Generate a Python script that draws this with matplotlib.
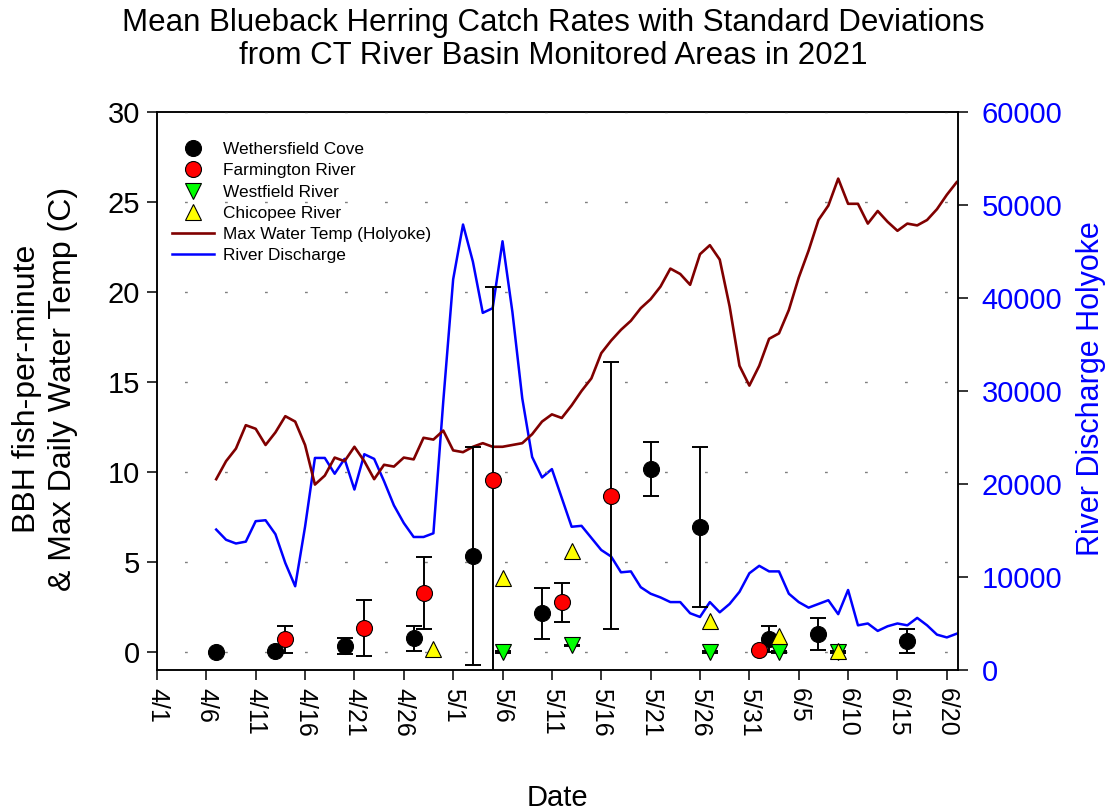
import matplotlib
matplotlib.use("Agg")
import matplotlib.pyplot as plt
import matplotlib.dates as mdates
from matplotlib.lines import Line2D
from matplotlib.ticker import FuncFormatter
import pandas as pd

plt.rcParams["font.family"] = ["Liberation Sans", "DejaVu Sans"]

# Holyoke daily series, 4/7 through 6/21
series_start = "2021-04-07"
max_temp = [
    9.6, 10.6, 11.3, 12.6, 12.4, 11.5, 12.2, 13.1, 12.8, 11.5,
    9.3, 9.8, 10.8, 10.6, 11.4, 10.6, 9.6, 10.4, 10.3, 10.8,
    10.7, 11.9, 11.8, 12.3, 11.2, 11.1, 11.4, 11.6, 11.4, 11.4,
    11.5, 11.6, 12.1, 12.8, 13.2, 13.0, 13.7, 14.5, 15.2, 16.6,
    17.3, 17.9, 18.4, 19.1, 19.6, 20.3, 21.3, 21.0, 20.4, 22.1,
    22.6, 21.8, 19.2, 15.9, 14.8, 15.9, 17.4, 17.7, 19.0, 20.8,
    22.3, 24.0, 24.8, 26.3, 24.9, 24.9, 23.8, 24.5, 23.9, 23.4,
    23.8, 23.7, 24.0, 24.6, 25.4, 26.1,
]
discharge = [
    15100, 14000, 13600, 13800, 16000, 16100, 14600, 11500, 9000, 15400,
    22800, 22800, 21100, 22700, 19400, 23200, 22700, 20300, 17700, 15800,
    14300, 14300, 14700, 28900, 42000, 47900, 43900, 38400, 38900, 46100,
    38500, 29200, 22900, 20700, 21600, 18500, 15400, 15500, 14200, 12900,
    12200, 10500, 10600, 8900, 8200, 7800, 7300, 7300, 6100, 5700,
    7300, 6200, 7100, 8400, 10400, 11200, 10600, 10600, 8200, 7300,
    6700, 7100, 7500, 6000, 8600, 4800, 5000, 4200, 4700, 5000,
    4800, 5600, 4800, 3800, 3500, 3900,
]

# catch rates in fish per minute: mean and standard deviation per sampling date
wethersfield_dates = ["2021-04-07", "2021-04-13", "2021-04-20", "2021-04-27",
                      "2021-05-03", "2021-05-10", "2021-05-21", "2021-05-26",
                      "2021-06-02", "2021-06-07", "2021-06-16"]
wethersfield_mean = [0.0, 0.05, 0.33, 0.76, 5.32, 2.14, 10.18, 6.95, 0.7, 0.98, 0.61]
wethersfield_sd = [0.0, 0.0, 0.45, 0.68, 6.06, 1.42, 1.5, 4.45, 0.72, 0.88, 0.64]

farmington_dates = ["2021-04-14", "2021-04-22", "2021-04-28", "2021-05-05",
                    "2021-05-12", "2021-05-17", "2021-06-01"]
farmington_mean = [0.7, 1.33, 3.27, 9.53, 2.75, 8.67, 0.11]
farmington_sd = [0.77, 1.54, 2.0, 10.76, 1.1, 7.42, 0.0]

westfield_dates = ["2021-05-06", "2021-05-13", "2021-05-27", "2021-06-03", "2021-06-09"]
westfield_mean = [0.0, 0.36, 0.0, 0.0, 0.0]
westfield_sd = [0.07, 0.05, 0.07, 0.07, 0.05]

chicopee_dates = ["2021-04-29", "2021-05-06", "2021-05-13", "2021-05-27",
                  "2021-06-03", "2021-06-09"]
chicopee_mean = [0.15, 4.12, 5.63, 1.74, 0.9, 0.05]

series_dates = pd.date_range(series_start, periods=len(max_temp), freq="D")
tick_dates = pd.date_range("2021-04-01", "2021-06-20", freq="5D")

fig = plt.figure(figsize=(11.1, 8.11), dpi=100)
ax = fig.add_axes([0.1414, 0.1739, 0.7216, 0.6880])
ax2 = ax.twinx()
# keep the catch markers and temperature line above the discharge line
ax.set_zorder(ax2.get_zorder() + 1)
ax.patch.set_visible(False)

ax2.plot(series_dates, discharge, color="#0000ff", lw=1.8)
ax.plot(series_dates, max_temp, color="#800000", lw=1.9, zorder=2)

err_kw = dict(fmt="none", ecolor="black", elinewidth=1.4, capsize=6, capthick=1.4, zorder=3)
mk_kw = dict(linestyle="none", markersize=11.5, markeredgecolor="black",
             markeredgewidth=0.8, zorder=4)

ax.errorbar(pd.to_datetime(wethersfield_dates), wethersfield_mean, yerr=wethersfield_sd, **err_kw)
ax.errorbar(pd.to_datetime(farmington_dates), farmington_mean, yerr=farmington_sd, **err_kw)
ax.errorbar(pd.to_datetime(westfield_dates), westfield_mean, yerr=westfield_sd, **err_kw)

h1, = ax.plot(pd.to_datetime(wethersfield_dates), wethersfield_mean, marker="o",
              markerfacecolor="black", **mk_kw)
h2, = ax.plot(pd.to_datetime(farmington_dates), farmington_mean, marker="o",
              markerfacecolor="#ff0000", **mk_kw)
h3, = ax.plot(pd.to_datetime(westfield_dates), westfield_mean, marker="v",
              markerfacecolor="#00ff00", **mk_kw)
h4, = ax.plot(pd.to_datetime(chicopee_dates), chicopee_mean, marker="^",
              markerfacecolor="#ffff00", **mk_kw)
h5 = Line2D([], [], color="#800000", lw=1.9)
h6 = Line2D([], [], color="#0000ff", lw=1.8)

ax.set_ylim(-1, 30)
ax.set_yticks(range(0, 31, 5))
ax2.set_ylim(0, 60000)
ax2.set_yticks(range(0, 60001, 10000))
ax.set_xlim(pd.Timestamp("2021-04-01"), pd.Timestamp("2021-06-21 03:00"))
ax.set_xticks(tick_dates)
ax.xaxis.set_major_formatter(FuncFormatter(
    lambda v, pos: f"{mdates.num2date(v).month}/{mdates.num2date(v).day}"))

ax.yaxis.grid(True, color="#808080", linestyle=(9, (2, 26.8)), linewidth=1.0)

for a in (ax, ax2):
    for sp in a.spines.values():
        sp.set_linewidth(1.1)
ax.tick_params(axis="y", direction="out", length=7, width=1.1, labelsize=21, pad=5)
ax.tick_params(axis="x", direction="out", length=7, width=1.1, labelsize=18,
               labelrotation=-90, pad=6)
ax2.tick_params(axis="y", direction="out", length=7, width=1.1, labelsize=21,
                labelcolor="#0000ff", pad=10)

ax.legend([h1, h2, h3, h4, h5, h6],
          ["Wethersfield Cove", "Farmington River", "Westfield River",
           "Chicopee River", "Max Water Temp (Holyoke)", "River Discharge"],
          loc="upper left", bbox_to_anchor=(0.019, 0.946), frameon=False,
          fontsize=12.4, handlelength=2.45, handletextpad=0.5,
          labelspacing=0.36, borderpad=0, borderaxespad=0)

fig.text(553 / 1110, 1 - 31 / 811, "Mean Blueback Herring Catch Rates with Standard Deviations",
         ha="center", va="baseline", fontsize=22.5)
fig.text(553 / 1110, 1 - 64 / 811, "from CT River Basin Monitored Areas in 2021",
         ha="center", va="baseline", fontsize=22.5)
fig.text(557 / 1110, 1 - 806 / 811, "Date", ha="center", va="baseline", fontsize=21)
fig.text(45 / 1110, 1 - 389 / 811, "BBH fish-per-minute\n& Max Daily Water Temp (C)",
         rotation=90, ha="center", va="center", multialignment="center",
         fontsize=23, linespacing=1.22)
fig.text(1091 / 1110, 1 - 389 / 811, "River Discharge Holyoke", rotation=90,
         ha="center", va="center", fontsize=22, color="#0000ff")

fig.savefig("out.png", dpi=100)
